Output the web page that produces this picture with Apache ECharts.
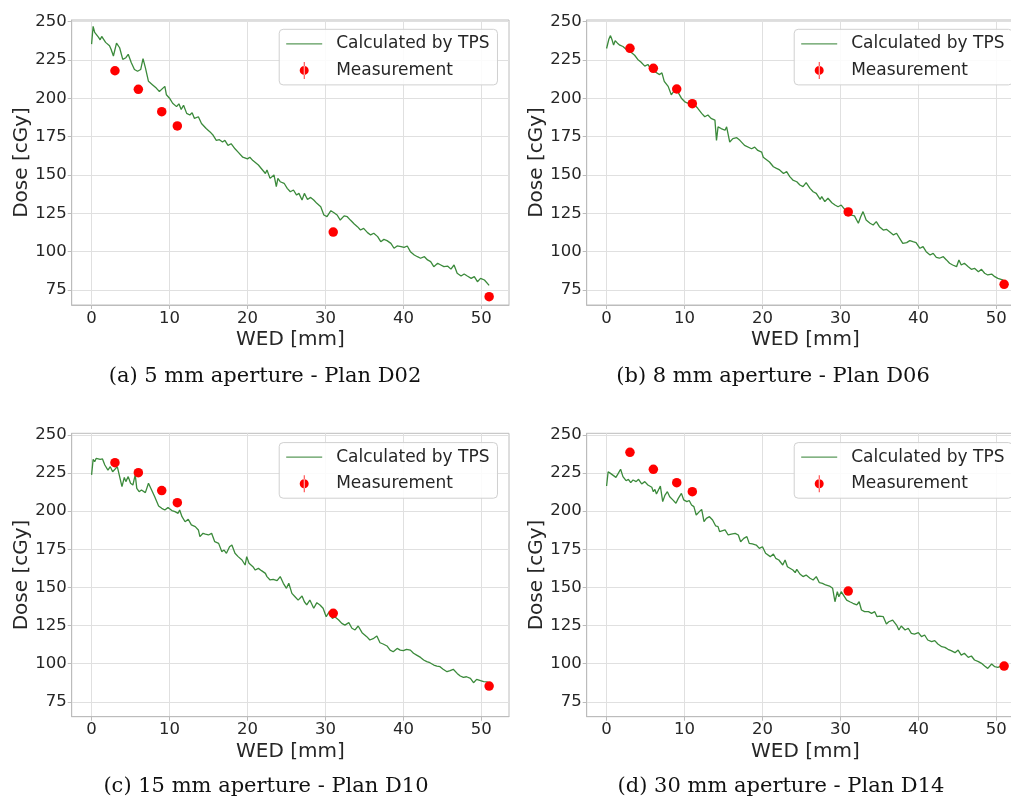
<!DOCTYPE html>
<html>
<head>
<meta charset="utf-8">
<script src="https://cdn.jsdelivr.net/npm/echarts/dist/echarts.min.js"></script>
<style>
html,body{margin:0;padding:0;background:#fff;}
#c{width:1011px;height:801px;}
</style>
</head>
<body>
<div id="c"></div>
<script>
// ---- data ----
const xTicks = [0, 10, 20, 30, 40, 50];
const yTicks = [75, 100, 125, 150, 175, 200, 225, 250];
const measWed = [3, 6, 9, 11, 31, 51];
const measA = [218.0, 205.9, 191.3, 182.0, 112.8, 70.6];
const measB = [232.6, 219.6, 206.1, 196.5, 125.9, 78.7];
const measC = [231.8, 225.3, 213.5, 205.6, 133.0, 85.3];
const measD = [238.6, 227.5, 218.7, 212.8, 147.6, 98.4];

const tpsA = [[0,235.4],[0.2,247.0],[0.4,243.0],[0.6,243.5],[0.9,239.8],[1.1,238.2],[1.3,240.4],[1.5,241.3],[1.8,236.5],[2.0,237.6],
[2.3,234.3],[2.5,232.0],[2.8,227.6],[3.2,236.0],[3.6,233.0],[4.0,225.4],[4.4,226.5],[4.7,228.7],[5.1,223.2],[5.5,218.8],
[5.9,217.7],[6.3,218.8],[6.6,225.9],[6.9,220.0],[7.3,211.1],[7.8,208.9],[8.3,206.7],[8.7,204.5],[8.9,205.6],[9.4,207.8],
[9.6,202.3],[10.0,200.1],[10.4,196.8],[10.9,194.6],[11.2,196.4],[11.5,192.8],[11.8,195.5],[12.2,190.2],[12.6,189.1],[12.9,190.6],
[13.2,186.9],[13.7,188.0],[14.1,183.6],[14.7,180.3],[15.2,178.1],[15.6,175.9],[16.0,172.6],[16.4,173.0],[16.8,171.5],[17.1,172.6],
[17.5,169.3],[17.9,170.4],[18.4,167.1],[18.8,164.9],[19.4,161.6],[20.0,160.5],[20.3,161.6],[20.7,159.4],[21.4,156.5],
[22.3,151.0],[22.5,153.3],[22.9,147.8],[23.4,150.0],[23.7,142.4],[23.9,147.8],[24.2,145.6],[24.7,144.6],[25.1,141.3],[25.5,139.1],
[25.9,140.2],[26.3,136.9],[26.6,138.0],[27.0,133.7],[27.3,138.0],[27.7,134.0],[28.1,135.4],[28.5,133.7],[28.9,131.5],[29.4,129.3],
[29.8,123.9],[30.2,122.8],[30.7,126.7],[31.1,125.4],[31.5,123.9],[31.9,120.6],[32.4,123.3],[32.8,122.8],[33.2,120.6],[33.7,118.0],
[34.1,116.3],[34.5,114.1],[34.9,115.2],[35.4,112.4],[35.8,110.9],[36.2,112.0],[36.7,109.8],[37.1,106.5],[37.5,108.0],[37.9,107.2],
[38.4,105.4],[38.8,102.2],[39.2,103.7],[39.7,103.3],[40.1,102.8],[40.5,103.7],[40.9,100.0],[41.4,97.8],[41.8,96.7],[42.2,95.7],
[42.7,96.7],[43.1,94.6],[43.5,93.5],[43.9,90.2],[44.4,92.4],[44.8,91.3],[45.2,90.2],[45.7,90.5],[46.1,88.6],[46.5,91.3],
[46.9,85.9],[47.4,84.1],[47.8,85.4],[48.2,84.1],[48.7,82.6],[49.1,83.7],[49.5,80.4],[49.9,82.6],[50.4,81.5],[51.0,78.0]];

const tpsB = [[0,232.5],[0.3,238.7],[0.5,240.9],[0.7,238.2],[0.9,234.7],[1.1,237.6],[1.4,236.0],[1.7,234.7],[2.1,233.8],[2.5,232.0],
[3.1,230.3],[3.6,228.1],[4.0,225.4],[4.4,223.7],[4.6,225.0],[4.9,221.0],[5.3,222.1],[5.7,218.8],[6.1,217.7],[6.8,215.5],
[7.1,216.6],[7.4,211.1],[7.9,207.8],[8.3,202.3],[8.7,205.2],[9.1,204.5],[9.6,200.1],[10.0,197.9],[10.4,196.8],[10.9,199.0],
[11.3,195.7],[11.7,193.5],[12.2,190.2],[12.6,188.0],[13.0,189.1],[13.4,186.9],[13.9,185.8],[14.1,172.6],[14.3,181.4],[14.7,180.3],
[15.2,179.2],[15.4,181.4],[15.8,171.5],[16.2,173.7],[16.7,174.3],[17.1,172.6],[17.7,169.3],[18.6,167.1],[19.0,168.2],[19.4,166.0],
[19.9,164.9],[20.1,161.6],[20.9,158.5],[21.4,155.4],[21.8,154.3],[22.2,153.3],[22.7,151.0],[23.1,152.2],[23.5,148.9],[23.9,146.7],
[24.4,145.6],[24.8,143.5],[25.2,142.4],[25.6,145.0],[26.1,141.3],[26.5,139.1],[26.9,138.0],[27.4,134.1],[27.6,135.9],[28.0,132.6],
[28.4,134.8],[28.9,131.9],[29.3,130.4],[29.7,129.3],[30.1,130.4],[30.6,127.2],[31.0,125.0],[31.4,123.9],[31.8,123.3],[32.3,118.5],
[32.6,122.8],[32.9,126.1],[33.3,120.6],[33.8,118.5],[34.2,117.4],[34.6,119.6],[35.0,116.3],[35.5,114.1],[35.9,114.6],[36.3,113.0],
[36.8,110.9],[37.2,112.0],[37.6,108.7],[38.0,105.4],[38.5,105.9],[38.9,107.2],[39.3,106.5],[39.7,105.9],[40.2,102.2],[40.6,103.3],
[41.0,100.0],[41.5,97.8],[41.9,98.9],[42.3,96.3],[42.7,95.7],[43.2,96.7],[43.6,94.6],[44.0,92.4],[44.4,91.3],[44.9,90.2],
[45.2,94.6],[45.5,91.3],[45.9,92.4],[46.4,90.2],[46.8,88.5],[47.2,89.1],[47.7,86.9],[48.1,88.5],[48.5,85.9],[48.9,84.8],
[49.4,85.4],[49.8,83.7],[50.2,82.6],[50.9,81.5]];

const tpsC = [[0,223.8],[0.2,234.0],[0.4,232.5],[0.6,234.7],[1.1,234.0],[1.4,234.3],[1.7,230.3],[2.1,227.0],[2.4,229.2],[2.7,225.9],
[3.0,227.5],[3.3,229.2],[3.9,216.1],[4.2,222.2],[4.4,219.4],[4.7,222.7],[5.0,218.3],[5.3,217.2],[5.6,223.8],[5.8,215.0],
[6.1,212.8],[6.4,213.9],[6.9,212.2],[7.3,218.3],[7.7,213.9],[8.1,209.5],[8.6,203.4],[9.0,201.9],[9.4,200.8],[9.8,202.5],
[10.3,200.4],[10.7,199.7],[11.1,198.6],[11.3,200.8],[11.6,196.4],[12.0,193.1],[12.4,194.7],[12.8,191.0],[13.3,189.9],[13.7,187.7],
[13.9,183.3],[14.3,185.5],[14.6,185.0],[15.0,184.4],[15.4,185.5],[15.8,180.0],[16.3,178.9],[16.7,173.5],[17.0,174.5],[17.3,172.4],
[17.7,176.7],[18.0,177.8],[18.4,172.4],[18.8,170.2],[19.3,168.0],[19.7,164.7],[19.9,170.2],[20.2,165.8],[20.7,163.6],[21.0,161.4],
[21.4,162.5],[21.8,161.0],[22.3,159.2],[22.5,157.1],[22.9,154.9],[23.3,155.3],[23.8,154.4],[24.2,157.1],[24.6,152.7],[25.0,149.4],
[25.3,152.7],[25.7,146.1],[26.1,143.9],[26.5,141.7],[27.0,144.4],[27.3,140.6],[27.6,138.5],[28.0,141.7],[28.5,136.3],[28.9,140.0],
[29.3,138.5],[29.7,136.3],[30.1,130.8],[30.5,134.1],[30.9,129.7],[31.2,130.8],[31.7,128.6],[32.1,126.4],[32.5,125.3],[33.0,126.9],
[33.4,123.2],[33.8,122.1],[34.2,124.7],[34.7,120.3],[35.3,117.7],[35.7,115.5],[36.2,116.6],[36.6,118.1],[37.0,113.7],[37.4,112.9],
[37.9,111.6],[38.3,108.9],[38.7,107.8],[39.2,110.0],[39.6,108.9],[40.0,108.5],[40.4,109.4],[40.9,108.9],[41.3,106.8],[41.7,105.6],
[42.2,104.1],[42.6,102.4],[43.0,101.3],[43.4,100.6],[43.9,99.1],[44.3,98.4],[44.7,98.0],[45.1,96.3],[45.6,94.7],[46.0,95.4],
[46.4,96.3],[46.9,93.6],[47.3,91.9],[47.7,91.0],[48.1,91.4],[48.6,90.4],[49.0,87.5],[49.4,89.7],[49.9,88.8],[50.3,88.2],[50.8,88.0]];

const tpsD = [[0,216.5],[0.2,225.9],[0.5,224.8],[1.2,222.2],[1.5,224.8],[1.8,227.5],[2.1,222.7],[2.5,220.0],[2.8,220.9],[3.1,218.7],
[3.4,220.5],[3.8,219.4],[4.1,220.9],[4.5,217.9],[4.9,219.4],[5.3,217.2],[5.8,215.7],[6.0,212.8],[6.2,214.3],[6.4,211.3],
[6.9,216.5],[7.2,206.3],[7.5,210.6],[7.8,212.8],[8.1,209.5],[8.5,207.4],[8.9,205.2],[9.2,208.4],[9.6,211.7],[9.9,207.4],
[10.3,206.3],[10.6,207.0],[10.9,204.1],[11.2,203.0],[11.5,197.5],[11.9,199.7],[12.2,201.2],[12.5,193.1],[12.8,195.3],[13.2,196.4],
[13.6,194.2],[14.0,190.3],[14.3,189.9],[14.5,186.6],[15.2,187.7],[15.6,184.4],[16.0,185.0],[16.5,185.5],[16.9,184.4],[17.2,180.0],
[17.6,182.2],[18.0,183.3],[18.3,178.9],[18.7,178.5],[19.2,177.8],[19.6,175.6],[20.0,176.7],[20.4,172.4],[21.0,170.2],[21.4,171.9],
[21.7,169.1],[22.1,168.0],[22.6,164.7],[22.9,168.0],[23.2,163.6],[23.9,161.4],[24.2,159.7],[24.4,161.9],[24.8,158.8],[25.2,157.1],
[25.6,158.1],[26.1,156.0],[26.5,154.9],[26.9,157.1],[27.3,153.1],[27.7,152.7],[28.1,151.6],[28.6,150.9],[29.0,149.4],[29.3,140.6],
[29.6,147.2],[29.8,143.9],[30.1,147.2],[30.8,141.7],[31.2,140.6],[31.6,139.6],[32.1,138.5],[32.4,140.6],[32.7,135.2],[33.1,134.1],
[33.6,134.1],[34.0,133.0],[34.4,134.1],[34.7,130.8],[35.0,131.2],[35.5,130.8],[35.9,126.0],[36.2,127.5],[36.7,128.6],[37.2,125.3],
[37.5,122.1],[37.8,124.7],[38.3,122.1],[38.7,123.2],[39.1,119.9],[39.5,119.4],[40.0,120.3],[40.4,117.7],[40.8,118.8],[41.2,115.5],
[41.7,114.4],[42.1,115.1],[42.5,112.9],[43.0,111.1],[43.4,110.7],[43.8,109.4],[44.2,108.5],[44.7,107.2],[45.1,108.9],[45.5,105.6],
[45.9,106.8],[46.4,104.1],[46.8,105.0],[47.2,102.4],[47.7,101.3],[48.1,100.2],[48.5,98.4],[48.9,96.9],[49.4,99.8],[49.8,98.0],
[50.2,97.6],[50.6,98.4]];

const captions = ['(a) 5 mm aperture - Plan D02', '(b) 8 mm aperture - Plan D06',
                  '(c) 15 mm aperture - Plan D10', '(d) 30 mm aperture - Plan D14'];
const TPS = 'Calculated by TPS';
const MEAS = 'Measurement';

// ---- layout / style ----
const FONT = 'DejaVu Sans';
const TXT = '#262626';
const SPINE = '#bcbcbc';
const GRIDC = '#e0e0e0';
const GREEN = '#3b8a3b';
const panels = [
  {left: 71.7,  top: 20,    width: 437.3, height: 285,   tps: tpsA, meas: measA, cap: [265, 377]},
  {left: 586.7, top: 20,    width: 437.3, height: 285,   tps: tpsB, meas: measB, cap: [773, 377]},
  {left: 71.7,  top: 433.3, width: 437.3, height: 283.4, tps: tpsC, meas: measC, cap: [266, 787]},
  {left: 586.7, top: 433.3, width: 437.3, height: 283.4, tps: tpsD, meas: measD, cap: [781, 787]}
];
const lineIcon = 'path://M0,0H36V1.3H0Z';
const measIcon = 'path://M0,8.5A4.5,4.5 0 1,0 9,8.5A4.5,4.5 0 1,0 0,8.5Z M4.1,0H4.9V17H4.1Z';

const option = {
  animation: false,
  backgroundColor: '#ffffff',
  grid: [], xAxis: [], yAxis: [], series: [], legend: [], graphic: []
};

panels.forEach((p, i) => {
  option.grid.push({
    left: p.left, top: p.top, width: p.width, height: p.height,
    show: true, borderColor: SPINE, borderWidth: 1, backgroundColor: 'transparent',
    containLabel: false, outerBoundsMode: 'none'
  });
  option.xAxis.push({
    type: 'value', gridIndex: i, min: -2.55, max: 53.55,
    name: 'WED [mm]', nameLocation: 'middle', nameGap: 25,
    nameTextStyle: {fontFamily: FONT, fontSize: 20, color: TXT},
    axisLine: {show: true, onZero: false, lineStyle: {color: SPINE, width: 1}},
    axisTick: {show: true, length: 4, customValues: xTicks, lineStyle: {color: SPINE}},
    axisLabel: {customValues: xTicks, fontFamily: FONT, fontSize: 16.5, color: TXT, margin: 5},
    splitLine: {show: true, lineStyle: {color: GRIDC, width: 1}}
  });
  option.yAxis.push({
    type: 'value', gridIndex: i, min: 65.2, max: 251.1,
    name: 'Dose [cGy]', nameLocation: 'middle', nameGap: 40, nameRotate: 90,
    nameTextStyle: {fontFamily: FONT, fontSize: 20, color: TXT},
    axisLine: {show: true, onZero: false, lineStyle: {color: SPINE, width: 1}},
    axisTick: {show: true, length: 4, customValues: yTicks, lineStyle: {color: SPINE}},
    axisLabel: {customValues: yTicks, fontFamily: FONT, fontSize: 16.5, color: TXT, margin: 5},
    splitLine: {show: true, lineStyle: {color: GRIDC, width: 1}}
  });
  option.series.push({
    type: 'line', name: TPS, xAxisIndex: i, yAxisIndex: i,
    data: p.tps, symbol: 'none', showSymbol: false, z: 2,
    lineStyle: {color: GREEN, width: 1.3}, itemStyle: {color: GREEN}
  });
  option.series.push({
    type: 'scatter', name: MEAS, xAxisIndex: i, yAxisIndex: i,
    data: measWed.map((w, k) => [w, p.meas[k]]), symbol: 'circle', symbolSize: 9.5, z: 3,
    itemStyle: {color: '#ff0000', opacity: 1}
  });
  option.legend.push({
    orient: 'vertical', left: p.left + 207.5, top: p.top + 9.3,
    itemWidth: 36, itemHeight: 17, itemGap: 9.6,
    padding: [6, 8, 6, 7],
    backgroundColor: 'rgba(255,255,255,0.85)', borderColor: '#d0d0d0', borderWidth: 1, borderRadius: 4,
    textStyle: {fontFamily: FONT, fontSize: 17, color: TXT, padding: [0, 0, 0, 9]},
    selectedMode: false,
    data: [{name: TPS, icon: lineIcon, itemStyle: {color: '#5a9a5a'}},
           {name: MEAS, icon: measIcon}]
  });
  option.graphic.push({
    type: 'text', x: p.cap[0], y: p.cap[1],
    style: {text: captions[i], font: '21px "DejaVu Serif"', fill: '#111', textAlign: 'center', textVerticalAlign: 'middle'}
  });
});

const chart = echarts.init(document.getElementById('c'), null, {renderer: 'canvas'});
chart.setOption(option);
</script>
</body>
</html>
